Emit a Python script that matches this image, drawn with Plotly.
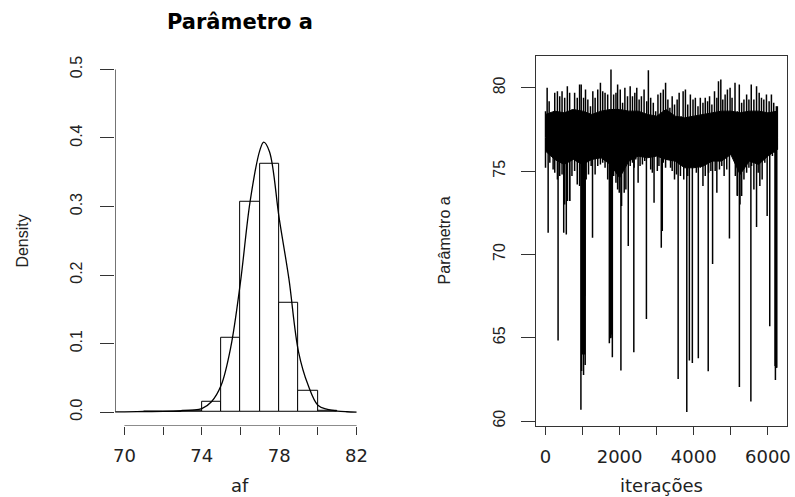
import plotly.graph_objects as go

# ---------------- Left panel: histogram of af ----------------
hist_left = [71, 72, 73, 74, 75, 76, 77, 78, 79, 80]
hist_density = [0.001, 0.0, 0.002, 0.0155, 0.108, 0.307, 0.363, 0.160, 0.0315, 0.002]

dens_x = [69.5, 70, 71, 72, 73, 73.5, 74, 74.5, 75, 75.5, 76, 76.5, 77, 77.2,
          77.5, 78, 78.5, 79, 79.5, 80, 80.5, 81, 81.5, 82]
dens_y = [0.0004, 0.0004, 0.0008, 0.001, 0.002, 0.003, 0.005, 0.015, 0.039, 0.095,
          0.190, 0.308, 0.382, 0.394, 0.380, 0.283, 0.195, 0.088, 0.039, 0.010,
          0.004, 0.0015, 0.0005, 0.0]

hist_xticks = [70, 72, 74, 76, 78, 80, 82]
hist_xlabels = ["70", "", "74", "", "78", "", "82"]
hist_yticks = [0.0, 0.1, 0.2, 0.3, 0.4, 0.5]
hist_ylabels = ["0.0", "0.1", "0.2", "0.3", "0.4", "0.5"]

# ---------------- Right panel: trace of parameter a ----------------
n_iter = 6258
core_it = [0, 250, 500, 750, 1000, 1250, 1500, 1750, 2000, 2250, 2500, 2750, 3000,
           3250, 3500, 3750, 4000, 4250, 4500, 4750, 5000, 5250, 5500, 5750, 6000, 6258]
core_top = [78.4, 78.6, 78.5, 78.7, 78.6, 78.4, 78.6, 78.7, 78.7, 78.6, 78.6, 78.4, 78.3,
            78.7, 78.3, 78.2, 78.3, 78.4, 78.5, 78.6, 78.6, 78.5, 78.6, 78.6, 78.5, 78.6]
core_bot = [76.2, 75.7, 75.4, 75.7, 75.4, 75.7, 75.8, 75.4, 74.6, 75.6, 75.9, 75.8, 75.9,
            75.7, 75.6, 75.2, 75.2, 75.3, 75.6, 75.6, 76.0, 74.8, 75.6, 75.4, 75.9, 76.3]

up_it = [1, 45, 99, 161, 250, 322, 384, 447, 518, 590, 652, 714, 786, 857, 920, 964,
         1027, 1080, 1143, 1214, 1277, 1339, 1410, 1482, 1544, 1607, 1678, 1723, 1767,
         1839, 1901, 1946, 2017, 2080, 2142, 2213, 2285, 2347, 2410, 2463, 2526, 2588,
         2660, 2731, 2776, 2838, 2909, 2972, 3034, 3106, 3177, 3240, 3302, 3356, 3418,
         3481, 3552, 3606, 3659, 3713, 3775, 3838, 3909, 3980, 4043, 4114, 4177, 4248,
         4310, 4373, 4426, 4489, 4560, 4623, 4667, 4730, 4783, 4846, 4908, 4980, 5033,
         5113, 5176, 5229, 5292, 5354, 5426, 5488, 5551, 5622, 5694, 5765, 5827, 5890,
         5961, 6033, 6095, 6157, 6228, 6255]
up_val = [78.6, 80.0, 79.2, 78.4, 79.7, 79.8, 79.5, 79.8, 79.4, 80.1, 79.7, 78.7, 79.7,
          79.4, 80.2, 80.2, 79.4, 79.9, 79.3, 78.9, 79.8, 79.4, 79.9, 80.3, 79.8, 79.7,
          79.6, 78.2, 81.1, 79.6, 79.7, 80.2, 79.9, 79.1, 80.0, 79.5, 80.1, 79.5, 79.7,
          80.0, 79.3, 79.5, 79.9, 79.2, 81.06, 79.4, 79.1, 78.6, 79.6, 79.7, 79.9, 80.3,
          79.3, 78.8, 79.5, 79.0, 79.3, 79.7, 78.3, 79.8, 79.9, 79.0, 79.6, 79.3, 79.4,
          78.9, 79.4, 79.1, 79.4, 79.2, 79.5, 79.0, 79.8, 79.4, 80.4, 80.5, 79.3, 79.6,
          79.9, 80.0, 79.4, 80.3, 78.6, 80.2, 79.1, 79.3, 79.6, 79.3, 80.2, 79.3, 80.1,
          79.7, 79.4, 79.3, 79.6, 79.2, 79.6, 79.1, 78.9, 78.9]

dn_it = [1, 117, 161, 206, 250, 322, 384, 447, 518, 590, 652, 714, 786, 857, 920, 1098,
         1161, 1232, 1339, 1410, 1482, 1544, 1607, 1678, 1839, 1901, 1946, 1990, 2053,
         2124, 2169, 2285, 2347, 2392, 2436, 2499, 2552, 2615, 2678, 2794, 2838, 2883,
         2945, 3017, 3061, 3177, 3240, 3302, 3374, 3418, 3481, 3534, 3641, 3730, 3838,
         4070, 4177, 4248, 4310, 4400, 4462, 4533, 4578, 4641, 4694, 4756, 4819, 4890,
         4997, 5069, 5122, 5176, 5247, 5292, 5354, 5426, 5488, 5560, 5622, 5738, 5783,
         5845, 5917, 6122, 6184, 6255]
dn_val = [75.2, 75.5, 76.1, 75.1, 74.9, 74.5, 74.7, 74.8, 73.0, 73.2, 73.2, 74.7, 75.0,
          74.2, 74.1, 74.5, 74.8, 75.3, 74.8, 75.3, 75.4, 75.5, 75.2, 74.5, 74.7, 74.3,
          73.9, 73.7, 72.9, 73.7, 73.9, 75.3, 75.5, 75.2, 75.7, 74.3, 75.3, 75.4, 75.6,
          75.9, 75.1, 74.9, 76.3, 75.0, 75.3, 75.5, 75.2, 75.7, 75.2, 75.0, 74.5, 74.8,
          74.7, 74.5, 74.7, 74.9, 75.2, 74.1, 74.7, 74.9, 75.0, 75.6, 75.0, 75.7, 75.1,
          75.3, 74.7, 75.1, 76.4, 75.9, 74.7, 73.5, 73.0, 73.5, 74.5, 74.9, 75.2, 75.3,
          73.9, 74.9, 74.1, 74.5, 75.5, 75.9, 76.1, 76.3]

spike_it = [72, 340, 492, 562, 653, 956, 975, 980, 990, 995, 1000, 1010, 1027, 1040,
            1045, 1055, 1060, 1071, 1269, 1723, 1740, 1755, 1767, 1785, 1804, 2035,
            2233, 2383, 2723, 2929, 3124, 3151, 3579, 3812, 3882, 3962, 4123, 4390,
            4508, 4623, 4963, 5177, 5231, 5541, 5694, 5980, 6050, 6195, 6203, 6210,
            6225, 6240]
spike_val = [71.3, 64.83, 71.3, 71.2, 73.2, 60.68, 63.0, 67.5, 67.6, 67.6, 64.0, 67.4,
             62.77, 65.0, 67.6, 64.0, 67.5, 63.37, 71.0, 64.67, 65.0, 64.97, 65.0, 65.2,
             63.83, 63.03, 70.5, 64.13, 66.13, 73.1, 70.4, 71.4, 62.53, 60.54, 63.63,
             63.49, 63.77, 62.99, 69.42, 73.7, 70.96, 73.55, 62.04, 61.17, 71.65, 72.3,
             65.69, 63.3, 62.46, 63.2, 63.2, 63.2]

trace_yticks = [60, 65, 70, 75, 80]
trace_xticks = [0, 1000, 2000, 3000, 4000, 5000, 6000]
trace_xlabels = ["0", "", "2000", "", "4000", "", "6000"]
trace_base = 77.0

# ---------------- helpers ----------------
def expand(lo, hi, f=0.04):
    d = (hi - lo) * f
    return [lo - d, hi + d]

def segments(xs, ys, base):
    sx, sy = [], []
    for x, y in zip(xs, ys):
        sx += [x, x, None]
        sy += [base, y, None]
    return sx, sy

W, H = 795, 497
plot_top, plot_bot = 56.0, 427.5
ydom = [1 - plot_bot / H, 1 - plot_top / H]
x1dom = [114.0 / W, 366.6 / W]
x2dom = [538.3 / W, 790.7 / W]

hx_range = expand(hist_xticks[0], hist_xticks[-1])
hy_range = expand(hist_yticks[0], hist_yticks[-1])
all_vals = up_val + dn_val + spike_val + core_top + core_bot
ty_range = expand(min(all_vals), max(all_vals))
tx_range = expand(1, n_iter)

fig = go.Figure()

# histogram bars
fig.add_trace(go.Bar(
    x=[l + 0.5 for l in hist_left], y=hist_density, width=1.0,
    marker=dict(color="white", line=dict(color="black", width=1)),
    xaxis="x", yaxis="y", showlegend=False))
# density curve
fig.add_trace(go.Scatter(
    x=dens_x, y=dens_y, mode="lines", line=dict(color="black", width=1.3, shape="spline"),
    xaxis="x", yaxis="y", showlegend=False))

# trace plot: dense core
fig.add_trace(go.Scatter(
    x=core_it + core_it[::-1], y=core_top + core_bot[::-1], fill="toself",
    fillcolor="black", mode="lines", line=dict(color="black", width=1),
    xaxis="x2", yaxis="y2", showlegend=False))
for xs, ys in [(up_it, up_val), (dn_it, dn_val), (spike_it, spike_val)]:
    sx, sy = segments(xs, ys, trace_base)
    fig.add_trace(go.Scatter(
        x=sx, y=sy, mode="lines", line=dict(color="black", width=1.5),
        xaxis="x2", yaxis="y2", showlegend=False, connectgaps=False))

tickfont_h = dict(family="DejaVu Sans", size=18, color="#222222")
tickfont_v = dict(family="Liberation Sans", size=16, color="#222222")

fig.update_layout(
    width=W, height=H, margin=dict(l=0, r=0, t=0, b=0),
    paper_bgcolor="white", plot_bgcolor="white", bargap=0,
    xaxis=dict(domain=x1dom, range=hx_range, tickvals=hist_xticks, ticktext=hist_xlabels,
               ticks="outside", ticklen=8, tickcolor="#333333", tickwidth=1.3,
               showgrid=False, zeroline=False, showline=False, tickfont=tickfont_h,
               anchor="y", ticklabelstandoff=6),
    yaxis=dict(domain=ydom, range=hy_range, tickvals=hist_yticks, ticktext=hist_ylabels,
               ticks="outside", ticklen=14, tickcolor="#333333", tickwidth=1.3,
               showgrid=False, zeroline=False, showline=False, tickfont=tickfont_v,
               tickangle=-90, anchor="x", ticklabelstandoff=12),
    xaxis2=dict(domain=x2dom, range=tx_range, tickvals=trace_xticks, ticktext=trace_xlabels,
                ticks="outside", ticklen=8, tickcolor="#333333", tickwidth=1.3,
                showgrid=False, zeroline=False, showline=True, mirror=True,
                linecolor="#333333", linewidth=1.3, tickfont=tickfont_h, anchor="y2",
                ticklabelstandoff=6),
    yaxis2=dict(domain=ydom, range=ty_range, tickvals=trace_yticks,
                ticks="outside", ticklen=14, tickcolor="#333333", tickwidth=1.3,
                showgrid=False, zeroline=False, showline=True, mirror=True,
                linecolor="#333333", linewidth=1.3, tickfont=tickfont_v,
                tickangle=-90, anchor="x2", ticklabelstandoff=10),
)

# R-style axis lines spanning the tick range (left panel)
fig.add_shape(type="line", xref="x", yref="y", x0=hist_xticks[0], x1=hist_xticks[-1],
              y0=hy_range[0], y1=hy_range[0], line=dict(color="#333333", width=1.3))
fig.add_shape(type="line", xref="x", yref="y", x0=hx_range[0], x1=hx_range[0],
              y0=hist_yticks[0], y1=hist_yticks[-1], line=dict(color="#333333", width=1.3))

left_cx = (x1dom[0] + x1dom[1]) / 2
right_cx = (x2dom[0] + x2dom[1]) / 2
mid_y = (ydom[0] + ydom[1]) / 2
ann = [
    dict(text="<b>Parâmetro a</b>", x=left_cx, y=1 - 22 / H,
         font=dict(family="DejaVu Sans", size=21, color="black")),
    dict(text="af", x=left_cx, y=1 - 487 / H,
         font=dict(family="DejaVu Sans", size=18, color="#222222")),
    dict(text="iterações", x=right_cx, y=1 - 487 / H,
         font=dict(family="DejaVu Sans", size=18, color="#222222")),
    dict(text="Density", x=21 / W, y=mid_y, textangle=-90,
         font=dict(family="Liberation Sans", size=16, color="#222222")),
    dict(text="Parâmetro a", x=446 / W, y=mid_y, textangle=-90,
         font=dict(family="Liberation Sans", size=16, color="#222222")),
]
for a in ann:
    fig.add_annotation(xref="paper", yref="paper", showarrow=False,
                       xanchor="center", yanchor="middle", **a)

fig.write_html("out.html")
